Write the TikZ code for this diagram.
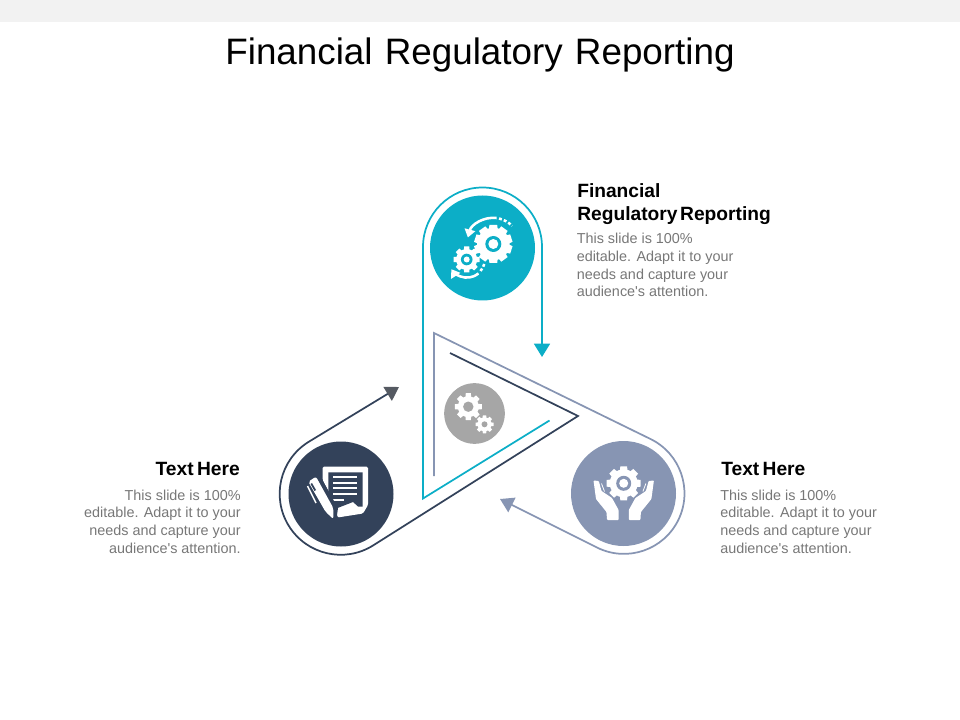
\documentclass[tikz,border=0pt]{standalone}
\usepackage{fontspec}
\setmainfont{Liberation Sans}
\usetikzlibrary{arrows.meta}

\definecolor{tealc}{HTML}{0CAEC7}
\definecolor{slatec}{HTML}{33425A}
\definecolor{bluec}{HTML}{8795B3}
\definecolor{greyc}{HTML}{A6A6A6}
\definecolor{stripc}{HTML}{F2F2F2}
\definecolor{textc}{HTML}{777777}
\definecolor{tipc}{HTML}{555A62}

\tikzset{
  disc/.style={circle,minimum size=78.75pt,inner sep=0pt,fill=#1},
  band/.style={line width=1.3pt,#1,line join=miter},
  headtxt/.style={font=\bfseries\fontsize{14.4}{17.2}\selectfont,text=black,inner sep=0pt,align=#1},
  bodytxt/.style={font=\fontsize{10.8}{13.3}\selectfont,text=textc,inner sep=0pt,align=#1},
}

% gear: x, y, outer radius, root radius, teeth step
\newcommand{\geardraw}[5]{
  \fill[white] (#1,#2) circle[radius=#4];
  \foreach \t in {0,#5,...,359}
    \fill[white,shift={(#1,#2)},rotate=\t] (-0.36*#4,0) -- (-0.24*#4,-#3) -- (0.24*#4,-#3) -- (0.36*#4,0) -- cycle;
}

\begin{document}
\begin{tikzpicture}[x=0.75pt,y=-0.75pt]
\useasboundingbox (0,0) rectangle (960,720);

%Top strip and title
\fill[stripc] (0,0) rectangle (960,22);
\node[font=\fontsize{27.6}{32}\selectfont,text=black,inner sep=0pt] (title) at (480,54.5) {Financial\hspace{1.5pt} Regulatory\hspace{1.5pt} Reporting};

%Marking coordinates
\coordinate (tealend) at (549.5,420.5);
\coordinate (tealcorner) at (423,498.5);
\coordinate (tealleft) at (423,247);
\coordinate (tealtip) at (542,357);
\coordinate (blueend) at (434,476);
\coordinate (bluecorner) at (434,333);
\coordinate (blueup) at (650.5,439);
\coordinate (bluetip) at (500,499);
\coordinate (darkend) at (450,353);
\coordinate (darkcorner) at (578,416);
\coordinate (darklow) at (373,545.5);
\coordinate (darktip) at (399,387);

%Drawing the three bands
\draw[band=tealc,-{Triangle[length=10pt,width=12pt]}] (tealend) -- (tealcorner) -- (tealleft) arc[start angle=180,end angle=360,radius=59.5] -- (tealtip);
\draw[band=bluec,-{Triangle[length=10pt,width=12pt]}] (blueend) -- (bluecorner) -- (blueup) arc[start angle=-64,end angle=116,radius=60.5] -- (bluetip);
\draw[band=slatec,-{Triangle[length=10pt,width=12pt,color=tipc]}] (darkend) -- (darkcorner) -- (darklow) arc[start angle=58,end angle=238,radius=61] -- (darktip);

%Discs
\node[disc=tealc] (tealdisc) at (482.5,248) {};
\node[disc=slatec] (darkdisc) at (341,494) {};
\node[disc=bluec] (bluedisc) at (623.5,493.5) {};
\node[circle,minimum size=45.5pt,inner sep=0pt,fill=greyc] (greydisc) at (474.5,413.5) {};

%Gears of the centre
\geardraw{468.3}{406.7}{13.5}{10.5}{45}
\fill[greyc] (468.3,406.7) circle[radius=5.2];
\geardraw{484.5}{424.3}{9}{7}{45}
\fill[greyc] (484.5,424.3) circle[radius=3];

%Teal icon
\geardraw{493.3}{244}{19}{16.3}{36}
\fill[tealc] (493.3,244) circle[radius=8];
\fill[white] (493.3,244) circle[radius=5];
\geardraw{466.7}{259.5}{13}{10.5}{45}
\fill[tealc] (466.7,259.5) circle[radius=5.8];
\fill[white] (466.7,259.5) circle[radius=3];
\draw[white,line width=1.9pt,-{Triangle[length=6pt,width=8pt]}] (496.7,218) arc[start angle=-83,end angle=-165,radius=26.5];
\draw[white,line width=1.9pt,dash pattern=on 2.2pt off 1.6pt] (499,218.5) arc[start angle=-77,end angle=-44,radius=26.5];
\draw[white,line width=1.9pt,-{Triangle[length=6pt,width=8pt]}] (478.5,273.5) arc[start angle=51,end angle=147,radius=18.5];
\draw[white,line width=1.9pt,dash pattern=on 2.2pt off 1.6pt] (480.5,271) arc[start angle=41,end angle=14,radius=18.5];

%Notepad icon
\fill[white,rounded corners=1pt] (322.7,466.7) -- (368,466.7) -- (368,505) -- (363,513.5) -- (337.5,517.5) -- (336,505) -- (322.7,480) -- cycle;
\fill[slatec] (328.3,472.3) -- (362.7,472.3) -- (362.7,506.5) -- (358,506.5) -- (353,502) -- (335,509) -- (328.3,492) -- cycle;
\foreach \y in {477,482.7,488.3,494}
  \fill[white] (333.3,\y-0.9) rectangle (357.3,\y+0.9);
\fill[white] (333.3,498.8) rectangle (344,500.6);
\fill[slatec] (305,478) -- (317,471) -- (338,508) -- (336,522) -- (322,514) -- cycle;
\fill[white,rounded corners=1.5pt] (308.3,481.7) -- (316,476.7) -- (333.3,508) -- (333.3,519) -- (325.5,511.7) -- cycle;
\fill[slatec] (310.5,484) -- (314.5,491) -- (316,490) -- (312,483) -- cycle;
\draw[white,line width=1.1pt] (307.5,486) -- (316,503);

%Hands icon
\geardraw{623.7}{483.3}{17}{14}{45}
\fill[bluec] (623.7,483.3) circle[radius=7.5];
\fill[white] (623.7,483.3) circle[radius=4.5];
\fill[white,rounded corners=0.6pt] (593.5,480.5) -- (598.8,481) -- (601.5,491) -- (612,498) -- (618.6,510) -- (618.6,520) -- (607,520) -- (606.5,512) -- (596,499) -- cycle;
\fill[white,rounded corners=0.6pt] (653.9,480.5) -- (648.6,481) -- (645.9,491) -- (635.4,498) -- (628.8,510) -- (628.8,520) -- (640.4,520) -- (640.9,512) -- (651.4,499) -- cycle;
\draw[white,line width=0.6pt] (601.5,483.5) -- (604.5,491.5) (645.9,483.5) -- (642.9,491.5);

%Texts
\node[headtxt=left,anchor=north west] (tophead) at (577,183.5) {Financial\\Regulatory\hspace{-2pt} Reporting};
\node[bodytxt=left,anchor=north west] (topbody) at (576.5,233) {This slide is 100\%\\editable. Adapt it to your\\needs and capture your\\audience\textquotesingle s attention.};
\node[headtxt=left,anchor=north west] (righthead) at (721,462.5) {Text\hspace{-1.5pt} Here};
\node[bodytxt=left,anchor=north west] (rightbody) at (720,489.5) {This slide is 100\%\\editable. Adapt it to your\\needs and capture your\\audience\textquotesingle s attention.};
\node[headtxt=right,anchor=north east] (lefthead) at (240,462.5) {Text\hspace{-1.5pt} Here};
\node[bodytxt=right,anchor=north east] (leftbody) at (241,489.5) {This slide is 100\%\\editable. Adapt it to your\\needs and capture your\\audience\textquotesingle s attention.};
\end{tikzpicture}
\end{document}
